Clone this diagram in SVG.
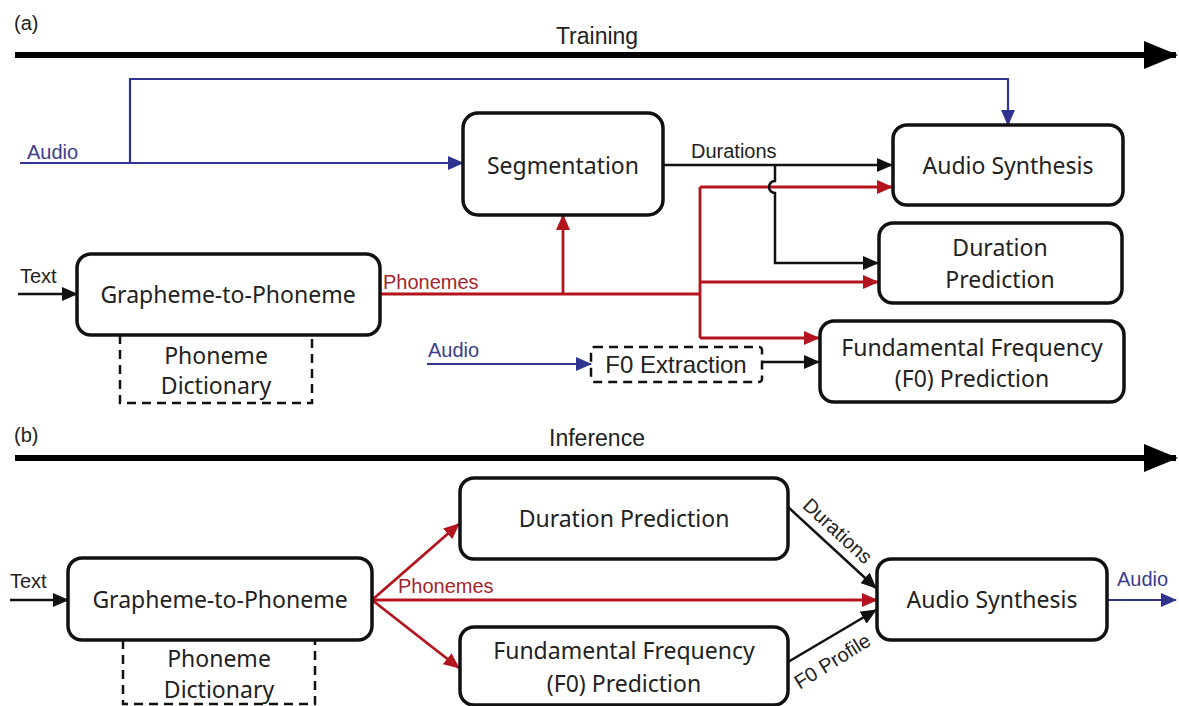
<svg xmlns="http://www.w3.org/2000/svg" width="1179" height="706" viewBox="0 0 1179 706">
  <style>
    .box { fill: #fff; stroke: #111; stroke-width: 3.5; }
    .dash { fill: none; stroke: #111; stroke-width: 2.5; stroke-dasharray: 9 6; }
    .title { font-family: "Noto Sans", "Open Sans", sans-serif; font-size: 23px; fill: #222; text-anchor: middle; }
    .lbl { font-family: "Liberation Sans", Arial, sans-serif; font-size: 20px; fill: #222; }
    .lbl-b { font-family: "Liberation Sans", Arial, sans-serif; font-size: 20px; fill: #3b3d8c; }
    .lbl-r { font-family: "Liberation Sans", Arial, sans-serif; font-size: 20px; fill: #a3262c; }
    .axis { font-family: "Liberation Sans", Arial, sans-serif; font-size: 23px; fill: #222; text-anchor: middle; }
    .big { font-family: "Liberation Sans", Arial, sans-serif; font-size: 24px; fill: #222; text-anchor: middle; }
    .k { fill: none; stroke: #111; stroke-width: 2.5; }
    .r { fill: none; stroke: #b3141d; stroke-width: 2.8; }
    .b { fill: none; stroke: #2e3490; stroke-width: 2.2; }
    .time { fill: none; stroke: #000; stroke-width: 6; }
  </style>
  <defs>
    <marker id="ak" markerUnits="userSpaceOnUse" markerWidth="16" markerHeight="14" refX="15" refY="7" orient="auto">
      <path d="M0,0 L16,7 L0,14 z" fill="#111"/>
    </marker>
    <marker id="ar" markerUnits="userSpaceOnUse" markerWidth="16" markerHeight="14" refX="15" refY="7" orient="auto">
      <path d="M0,0 L16,7 L0,14 z" fill="#b3141d"/>
    </marker>
    <marker id="ab" markerUnits="userSpaceOnUse" markerWidth="16" markerHeight="14" refX="15" refY="7" orient="auto">
      <path d="M0,0 L16,7 L0,14 z" fill="#2e3490"/>
    </marker>
    <marker id="at" markerUnits="userSpaceOnUse" markerWidth="34" markerHeight="28" refX="32" refY="14" orient="auto">
      <path d="M0,0 L34,14 L0,28 z" fill="#000"/>
    </marker>
  </defs>

  <!-- (a) training timeline -->
  <g id="training-axis">
    <text x="14" y="30" class="lbl">(a)</text>
    <text x="597" y="44" class="axis">Training</text>
    <line x1="15" y1="55" x2="1176" y2="55" class="time" marker-end="url(#at)"/>
  </g>

  <!-- (b) inference timeline -->
  <g id="inference-axis">
    <text x="14" y="442" class="lbl">(b)</text>
    <text x="597" y="446" class="axis">Inference</text>
    <line x1="15" y1="458" x2="1176" y2="458" class="time" marker-end="url(#at)"/>
  </g>

  <!-- connectors -->
  <g id="connectors">
    <!-- training: audio inputs -->
    <path d="M20,163 H463" class="b" marker-end="url(#ab)"/>
    <path d="M130,163 V79 H1008 V125" class="b" marker-end="url(#ab)"/>
    <path d="M427,364 H591" class="b" marker-end="url(#ab)"/>
    <!-- training: text input -->
    <path d="M18,294 H77" class="k" marker-end="url(#ak)"/>
    <!-- training: phonemes -->
    <path d="M380,294 H700" class="r"/>
    <path d="M563,294 V215" class="r" marker-end="url(#ar)"/>
    <path d="M700,187 V338" class="r"/>
    <path d="M700,187 H892" class="r" marker-end="url(#ar)"/>
    <path d="M700,282 H878" class="r" marker-end="url(#ar)"/>
    <path d="M700,338 H819" class="r" marker-end="url(#ar)"/>
    <!-- training: durations -->
    <path d="M663,165 H892" class="k" marker-end="url(#ak)"/>
    <path d="M775,165 V181 A6,6 0 0 0 775,193 V263 H878" class="k" marker-end="url(#ak)"/>
    <!-- training: F0 extraction to prediction -->
    <path d="M762,362 H819" class="k" marker-end="url(#ak)"/>

    <!-- inference -->
    <path d="M10,600 H68" class="k" marker-end="url(#ak)"/>
    <path d="M372,600 L459,524" class="r" marker-end="url(#ar)"/>
    <path d="M372,600 L459,668" class="r" marker-end="url(#ar)"/>
    <path d="M372,600 H877" class="r" marker-end="url(#ar)"/>
    <path d="M788,507 L876,588" class="k" marker-end="url(#ak)"/>
    <path d="M788,662 L876,610" class="k" marker-end="url(#ak)"/>
    <path d="M1107,600 H1176" class="b" marker-end="url(#ab)"/>

    <!-- labels -->
    <text x="27" y="159" class="lbl-b">Audio</text>
    <text x="428" y="357" class="lbl-b">Audio</text>
    <text x="20" y="283" class="lbl">Text</text>
    <text x="383" y="289" class="lbl-r">Phonemes</text>
    <text x="691" y="158" class="lbl">Durations</text>
    <text x="10" y="588" class="lbl">Text</text>
    <text x="398" y="593" class="lbl-r">Phonemes</text>
    <text x="1117" y="586" class="lbl-b">Audio</text>
    <text transform="translate(833,536) rotate(42.5)" class="lbl" text-anchor="middle">Durations</text>
    <text transform="translate(836,667) rotate(-32)" class="lbl" text-anchor="middle">F0 Profile</text>
  </g>

  <!-- training nodes -->
  <g id="seg">
    <rect x="463" y="113" width="200" height="102" rx="15" class="box"/>
    <text x="563" y="174" class="title">Segmentation</text>
  </g>
  <g id="g2p-a">
    <path d="M120,335 V403 H312 V335" class="dash"/>
    <rect x="77" y="254" width="303" height="81" rx="14" class="box"/>
    <text x="228" y="303" class="title">Grapheme-to-Phoneme</text>
    <text x="216" y="364" class="title">Phoneme</text>
    <text x="216" y="394" class="title">Dictionary</text>
  </g>
  <g id="synth-a">
    <rect x="893" y="125" width="230" height="80" rx="14" class="box"/>
    <text x="1008" y="174" class="title">Audio Synthesis</text>
  </g>
  <g id="dur-a">
    <rect x="879" y="223" width="243" height="80" rx="14" class="box"/>
    <text x="1000" y="256" class="title">Duration</text>
    <text x="1000" y="288" class="title">Prediction</text>
  </g>
  <g id="f0-a">
    <rect x="820" y="321" width="304" height="81" rx="14" class="box"/>
    <text x="972" y="356" class="title">Fundamental Frequency</text>
    <text x="972" y="387" class="title">(F0) Prediction</text>
  </g>
  <g id="f0x">
    <rect x="591" y="347" width="171" height="35" rx="3" class="dash"/>
    <text x="676" y="373" class="big">F0 Extraction</text>
  </g>

  <!-- inference nodes -->
  <g id="g2p-b">
    <path d="M123,640 V704 H315 V640" class="dash"/>
    <rect x="68" y="558" width="304" height="82" rx="14" class="box"/>
    <text x="220" y="608" class="title">Grapheme-to-Phoneme</text>
    <text x="219" y="667" class="title">Phoneme</text>
    <text x="219" y="698" class="title">Dictionary</text>
  </g>
  <g id="dur-b">
    <rect x="460" y="478" width="328" height="81" rx="14" class="box"/>
    <text x="624" y="527" class="title">Duration Prediction</text>
  </g>
  <g id="f0-b">
    <rect x="460" y="627" width="328" height="78" rx="14" class="box"/>
    <text x="624" y="659" class="title">Fundamental Frequency</text>
    <text x="624" y="692" class="title">(F0) Prediction</text>
  </g>
  <g id="synth-b">
    <rect x="877" y="559" width="230" height="81" rx="14" class="box"/>
    <text x="992" y="608" class="title">Audio Synthesis</text>
  </g>
</svg>
